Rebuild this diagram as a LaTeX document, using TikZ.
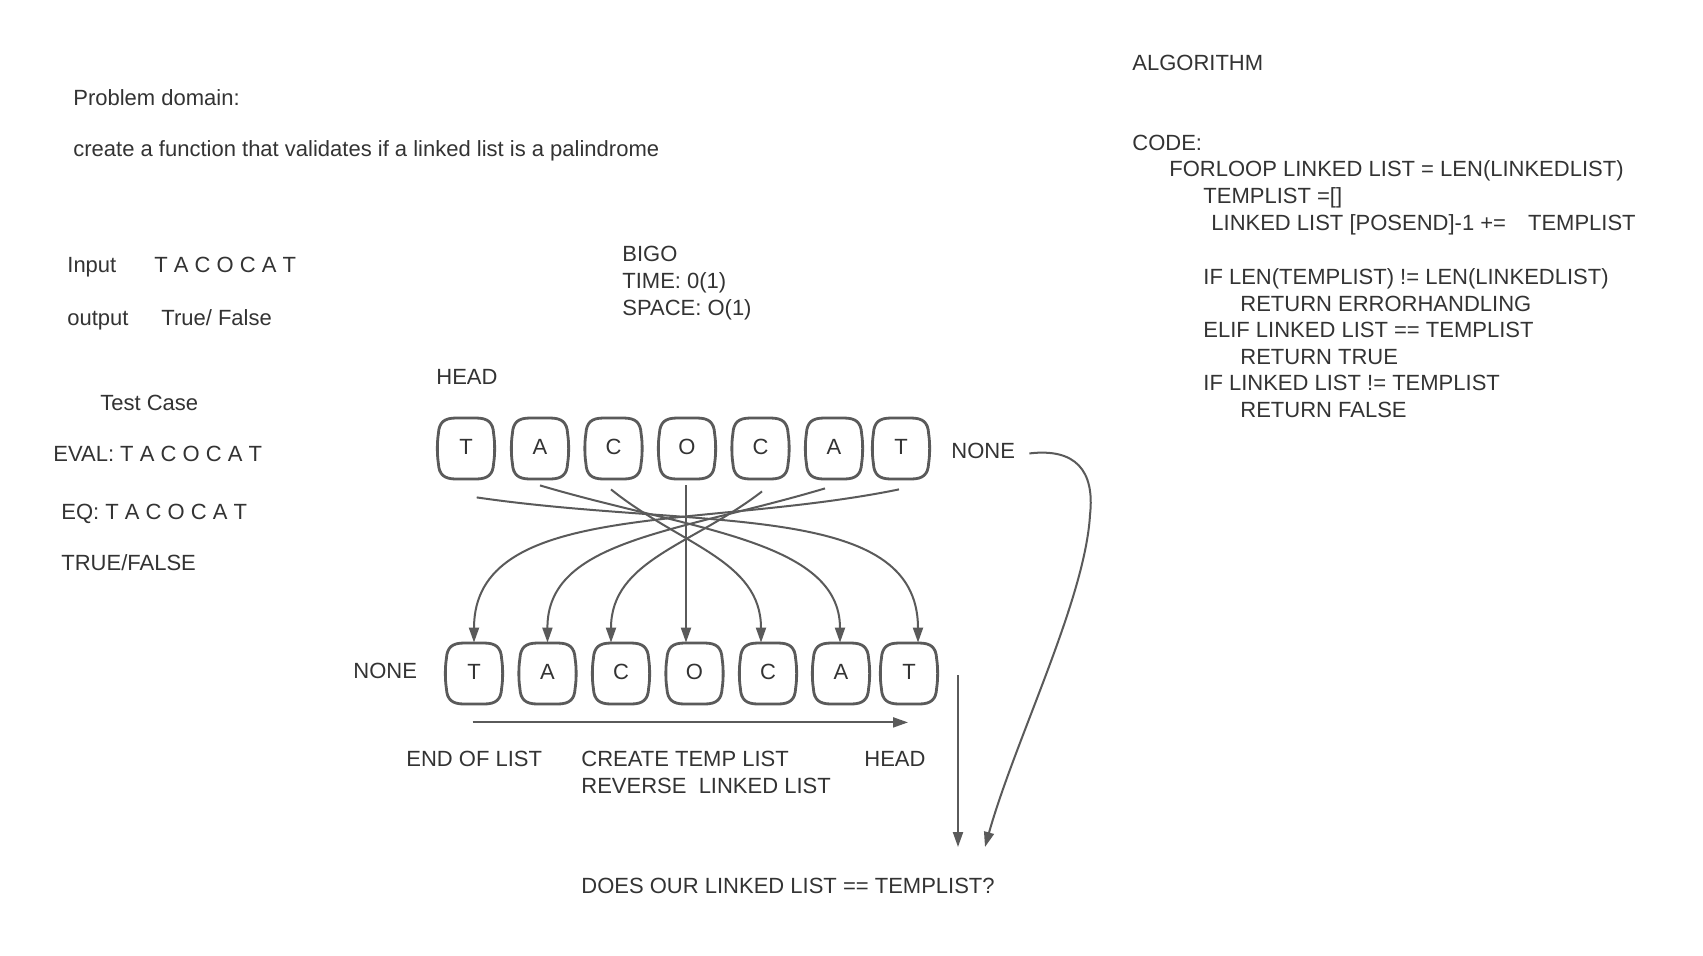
\documentclass[tikz,border=0pt]{standalone}
\usepackage{fontspec}
\setmainfont{Liberation Sans}
\usetikzlibrary{arrows.meta,calc}
\definecolor{ln}{HTML}{5A5A5A}
\definecolor{tx}{HTML}{333333}
\newcommand\barrelbox[1]{%
  \draw[boxline, shift={(#1.center)}] (-10,-30.5) -- (10,-30.5)
    .. controls (22,-30.5) and (27,-26) .. (27.6,-15)
    .. controls (29,-6) and (29,6) .. (27.6,15)
    .. controls (27,26) and (22,30.5) .. (10,30.5) -- (-10,30.5)
    .. controls (-22,30.5) and (-27,26) .. (-27.6,15)
    .. controls (-29,6) and (-29,-6) .. (-27.6,-15)
    .. controls (-27,-26) and (-22,-30.5) .. (-10,-30.5) -- cycle;}
\begin{document}
\begin{tikzpicture}[x=0.5pt,y=-0.5pt,
  every node/.style={font=\fontsize{11}{13}\selectfont, text=tx, inner sep=0pt},
  txt/.style={anchor=base west},
  cell/.style={minimum width=28.5pt, minimum height=30.5pt},
  boxline/.style={draw=ln, line width=1.4pt},
  conn/.style={draw=ln, line width=1pt, -{Triangle[width=5pt,length=7.5pt]}},
]
\useasboundingbox[fill=white] (0,0) rectangle (1703,955);

% left texts
\node[txt] (pd) at (73,105) {Problem domain:};
\node[txt] (desc) at (73,156) {create a function that validates if a linked list is a palindrome};
\node[txt] (inl) at (67,272) {Input};
\node[txt] (inv) at (154,272) {T A C O C A T};
\node[txt] (outl) at (67,325) {output};
\node[txt] (outv) at (161,325) {True/ False};
\node[txt] (tc) at (100,410) {Test Case};
\node[txt] (eval) at (53,461) {EVAL: T A C O C A T};
\node[txt] (eq) at (61,519) {EQ: T A C O C A T};
\node[txt] (tf) at (61,570) {TRUE/FALSE};

% big O
\node[txt] (bigo) at (622,261) {BIGO};
\node[txt] (time) at (622,288) {TIME: 0(1)};
\node[txt] (space) at (622,315) {SPACE: O(1)};

% algorithm
\node[txt] (alg) at (1132,70) {ALGORITHM};
\node[txt] (code) at (1132,150) {CODE:};
\node[txt] (c1) at (1169,176) {FORLOOP LINKED LIST = LEN(LINKEDLIST)};
\node[txt] (c2) at (1203,203) {TEMPLIST =[]};
\node[txt] (c3) at (1211,230) {LINKED LIST [POSEND]-1 +=\hspace{11pt}TEMPLIST};
\node[txt] (c4) at (1203,284) {IF LEN(TEMPLIST) != LEN(LINKEDLIST)};
\node[txt] (c5) at (1240,311) {RETURN ERRORHANDLING};
\node[txt] (c6) at (1203,337) {ELIF LINKED LIST == TEMPLIST};
\node[txt] (c7) at (1240,364) {RETURN TRUE};
\node[txt] (c8) at (1203,390) {IF LINKED LIST != TEMPLIST};
\node[txt] (c9) at (1240,417) {RETURN FALSE};

% list labels
\node[txt] (head) at (436,384) {HEAD};
\node[txt] (noneT) at (951,458) {NONE};
\node[txt] (noneB) at (353,678) {NONE};
\node[txt] (eol) at (406,766) {END OF LIST};
\node[txt] (ctl) at (581,766) {CREATE TEMP LIST};
\node[txt] (rll) at (581,793) {REVERSE\ \ LINKED LIST};
\node[txt] (headB) at (864,766) {HEAD};
\node[txt] (does) at (581,893) {DOES OUR LINKED LIST == TEMPLIST?};

% top row
\foreach \n/\x/\l in {t1/466/T,t2/540/A,t3/613.5/C,t4/687/O,t5/760.5/C,t6/834/A,t7/901/T}{
  \node[cell] (\n) at (\x,448.5) {\raisebox{1.2pt}{\l}};
  \barrelbox{\n}
}
% bottom row
\foreach \n/\x/\l in {b1/474/T,b2/547.5/A,b3/621/C,b4/694.5/O,b5/768/C,b6/841/A,b7/909/T}{
  \node[cell] (\n) at (\x,673.5) {\raisebox{1.2pt}{\l}};
  \barrelbox{\n}
}

% crossing connectors
\draw[conn] ($(t1.south)+(10.7,18)$) .. controls (700,530) and (918,500) .. ($(b7.north)+(9,0)$);
\draw[conn] ($(t7.south)+(-2,10)$) .. controls (700,530) and (474,500) .. ($(b1.north)+(0,0)$);
\draw[conn] ($(t2.south)+(0,6)$) .. controls (690,530) and (840,540) .. ($(b6.north)+(-1,0)$);
\draw[conn] ($(t6.south)+(-9,9)$) .. controls (675,533) and (547,540) .. ($(b2.north)+(0,0)$);
\draw[conn] ($(t3.south)+(-2.5,10)$) .. controls (680,545) and (761,560) .. ($(b5.north)+(-7,0)$);
\draw[conn] ($(t5.south)+(1.5,12)$) .. controls (693,545) and (611,560) .. ($(b3.north)+(-10,0)$);
\draw[conn] ($(t4.south)+(-1,6)$) -- ($(b4.north)+(-8.5,0)$);

% bottom direction arrow
\coordinate (da1) at ($(b1.south)+(-1.5,18)$);
\coordinate (da2) at ($(b7.south)+(-1,18)$);
\draw[conn] (da1) -- (da2);

% arrows to the question
\coordinate (v1) at (958,675);
\coordinate (v2) at (958,847);
\draw[conn] (v1) -- (v2);
\coordinate (w2) at (985,847);
\draw[conn] ($(noneT.east)+(14,3)$) .. controls (1075,448) and (1095,470) .. (1090,515)
  .. controls (1085,600) and (1015,740) .. (w2);
\end{tikzpicture}
\end{document}
